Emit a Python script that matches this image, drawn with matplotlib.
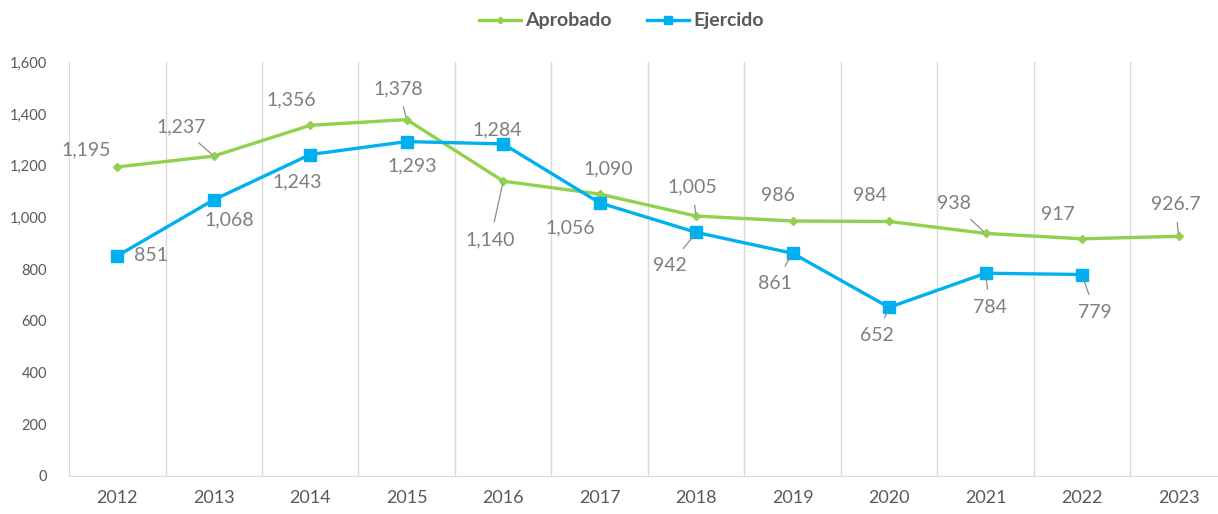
import numpy as np
import matplotlib.pyplot as plt
from matplotlib.ticker import FuncFormatter

plt.rcParams['font.family'] = ['Lato', 'DejaVu Sans']

# data
years = ['2012', '2013', '2014', '2015', '2016', '2017', '2018', '2019', '2020', '2021', '2022', '2023']
aprobado = [1195, 1237, 1356, 1378, 1140, 1090, 1005, 986, 984, 938, 917, 926.7]
ejercido = [851, 1068, 1243, 1293, 1284, 1056, 942, 861, 652, 784, 779]
aprobado_txt = ['1,195', '1,237', '1,356', '1,378', '1,140', '1,090', '1,005', '986', '984', '938', '917', '926.7']
ejercido_txt = ['851', '1,068', '1,243', '1,293', '1,284', '1,056', '942', '861', '652', '784', '779']

# label offsets in pixels (dx, dy up) and whether a leader line is drawn
apr_off = [(-31, 17), (-33, 29), (-19, 25), (-8, 31), (-13, -59), (9, 25),
           (-4, 29), (-15, 25), (-19, 26), (-32, 30), (-24, 24), (-3, 32)]
apr_lead = [False, True, False, True, True, False, True, False, False, True, False, True]
eje_off = [(34, 0), (16, -20), (-13, -27), (5, -24), (-6, 14), (-29, -25),
           (-26, -33), (-18, -30), (-12, -28), (4, -34), (13, -38)]
eje_lead = [False, False, False, False, False, False, True, True, True, True, True]

GREEN = '#92D050'
BLUE = '#00B0F0'
LBL = '#7F7F7F'

fig = plt.figure(figsize=(12.18, 5.14), dpi=100)
ax = fig.add_axes([0.0567, 0.074, 0.9505, 0.805])

x = np.arange(len(years))
ax.plot(x, aprobado, color=GREEN, lw=2.4, marker='D', ms=4.5, label='Aprobado', zorder=3)
ax.plot(x[:len(ejercido)], ejercido, color=BLUE, lw=2.4, marker='s', ms=8, label='Ejercido', zorder=3)

px = 0.72  # points per pixel at dpi 100


def put_labels(vals, txts, offs, leads):
    for i, (v, t, (dx, dy), ld) in enumerate(zip(vals, txts, offs, leads)):
        ap = dict(arrowstyle='-', color='#8C8C8C', lw=0.9, shrinkA=5, shrinkB=2) if ld else None
        ax.annotate(t, (i, v), xytext=(dx * px, dy * px), textcoords='offset points',
                    ha='center', va='center', fontsize=14, color=LBL,
                    arrowprops=ap, zorder=4)


put_labels(aprobado, aprobado_txt, apr_off, apr_lead)
put_labels(ejercido, ejercido_txt, eje_off, eje_lead)

ax.set_xlim(-0.5, len(years) - 0.5)
ax.set_ylim(0, 1600)
ax.set_yticks(np.arange(0, 1601, 200))
ax.yaxis.set_major_formatter(FuncFormatter(lambda v, p: f'{int(v):,}'))
ax.set_xticks(x)
ax.set_xticklabels(years)

for b in np.arange(0.5, len(years) - 0.5, 1):
    ax.axvline(b, color='#D9D9D9', lw=1, zorder=1)

for s in ['top', 'right']:
    ax.spines[s].set_visible(False)
ax.spines['left'].set_color('#D9D9D9')
ax.spines['bottom'].set_color('#D9D9D9')
ax.tick_params(axis='y', length=0, labelsize=10.5, labelcolor='#595959', pad=16)
ax.tick_params(axis='x', length=0, labelsize=13, labelcolor='#595959', pad=10)

leg = fig.legend(loc='upper center', bbox_to_anchor=(0.51, 1.01), ncol=2, frameon=False,
                 prop={'weight': 'bold', 'size': 14}, handlelength=2.2, markerscale=0.75,
                 columnspacing=1.8, handletextpad=0.2)
for t in leg.get_texts():
    t.set_color('#595959')

fig.savefig('out.png', dpi=100)
